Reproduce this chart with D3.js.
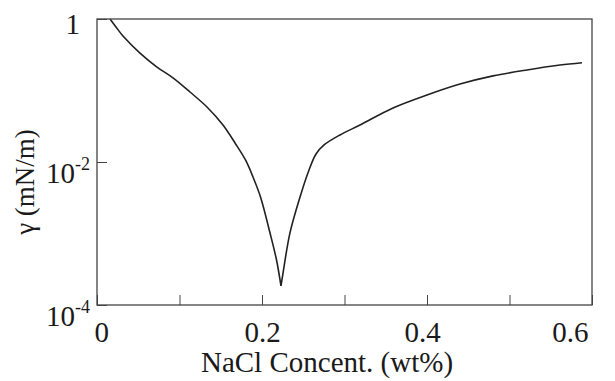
<!DOCTYPE html>
<html>
<head>
<meta charset="utf-8">
<script src="https://cdn.jsdelivr.net/npm/d3@7"></script>
<style>
  html, body { margin: 0; padding: 0; background: #fff; }
  svg { display: block; }
  svg text { font-family: "Liberation Serif", Tinos, "Times New Roman", "DejaVu Serif", "Noto Serif", serif !important; fill: #1a1a1a; }
</style>
</head>
<body>
<svg id="chart" width="615" height="381"></svg>
<script>
// ---- data ----
const concLeft  = [0.0158, 0.0230, 0.0315, 0.0521, 0.0727, 0.0921, 0.1127, 0.1333, 0.1527, 0.1673, 0.1800, 0.1891, 0.1982, 0.2097, 0.2176, 0.2230];
const gammaLeft = [1.0, 0.773, 0.578, 0.334, 0.213, 0.150, 0.0953, 0.0588, 0.0329, 0.01845, 0.01067, 0.00617, 0.00324, 0.001016, 0.000426, 0.000185];
const concRight  = [0.2230, 0.2255, 0.2339, 0.2461, 0.2570, 0.2655, 0.2752, 0.2945, 0.3188, 0.3588, 0.4000, 0.4400, 0.4800, 0.5212, 0.5612, 0.5879];
const gammaRight = [0.000185, 0.00028, 0.00102, 0.00324, 0.00773, 0.01294, 0.0173, 0.0239, 0.0329, 0.0569, 0.0865, 0.123, 0.160, 0.194, 0.227, 0.245];
const xTicks = [0, 0.1, 0.2, 0.3, 0.4, 0.5, 0.6];
const xTickLabels = ["0", "", "0.2", "", "0.4", "", "0.6"];
const yTicks = [1, 1e-2, 1e-4];
const yTickExp = [null, "-2", "-4"];
const xTitle = "NaCl Concent. (wt%)";
const yTitle = "γ (mN/m)";

// ---- layout ----
const FONT = '"Liberation Serif", Tinos, "Times New Roman", "DejaVu Serif", serif';
const svg = d3.select("#chart");
const L = 97, R = 592, T = 19, B = 305;
const x = d3.scaleLinear().domain([0, 0.6]).range([L, R]);
const y = d3.scaleLog().domain([1e-4, 1]).range([B, T]);

// curve (two branches meeting at the minimum)
const line = d3.line().x(d => x(d[0])).y(d => y(d[1])).curve(d3.curveCatmullRom.alpha(0.5));
const leftPts = concLeft.map((c, i) => [c, gammaLeft[i]]);
const rightPts = concRight.map((c, i) => [c, gammaRight[i]]);
svg.selectAll("path.branch")
  .data([leftPts, rightPts])
  .join("path")
  .attr("class", "branch")
  .attr("fill", "none")
  .attr("stroke", "#222")
  .attr("stroke-width", 1.6)
  .attr("stroke-linejoin", "round")
  .attr("d", line);

// x axis
const gx = svg.append("g").attr("transform", `translate(0,${B})`)
  .call(d3.axisBottom(x).tickValues(xTicks).tickSize(-10).tickPadding(10)
    .tickFormat((d, i) => xTickLabels[i]));
gx.attr("font-family", FONT);
gx.select(".domain").remove();
gx.selectAll(".tick line").attr("stroke", "#444").attr("stroke-width", 1);
gx.selectAll(".tick text")
  .attr("font-size", 29).attr("fill", "#1a1a1a")
  .attr("dy", "0.93em")
  .each(function(d, i) {
    const t = d3.select(this);
    if (i === 0) t.attr("text-anchor", "start").attr("x", -3);
    if (i === xTicks.length - 1) t.attr("text-anchor", "end").attr("x", -4);
    if (i === 4) t.attr("x", -5);
  });

// y axis
const gy = svg.append("g").attr("transform", `translate(${L},0)`)
  .call(d3.axisLeft(y).tickValues(yTicks).tickSize(-10).tickPadding(17).tickFormat(() => ""));
gy.attr("font-family", FONT);
gy.select(".domain").remove();
gy.selectAll(".tick line").attr("stroke", "#444").attr("stroke-width", 1);
gy.selectAll(".tick text").each(function(d, i) {
  const t = d3.select(this);
  t.attr("font-size", 29).attr("fill", "#1a1a1a")
   .attr("text-anchor", "end").attr("dy", null);
  if (yTickExp[i] === null) {
    t.attr("x", -17).attr("y", 14).text("1");
  } else {
    t.attr("x", -7).attr("y", 20);
    t.append("tspan").text("10");
    t.append("tspan").attr("font-size", 18).attr("dy", -13).text(yTickExp[i]);
  }
});

// frame
svg.append("rect")
  .attr("x", L).attr("y", T).attr("width", R - L).attr("height", B - T)
  .attr("fill", "none").attr("stroke", "#444").attr("stroke-width", 1.3);

// titles
svg.append("text")
  .attr("x", 327).attr("y", 372)
  .attr("text-anchor", "middle").attr("font-size", 29).attr("font-family", FONT)
  .text(xTitle);
svg.append("text")
  .attr("transform", "translate(34,182) rotate(-90)")
  .attr("text-anchor", "middle").attr("font-size", 27).attr("font-family", FONT)
  .text(yTitle);
</script>
</body>
</html>
